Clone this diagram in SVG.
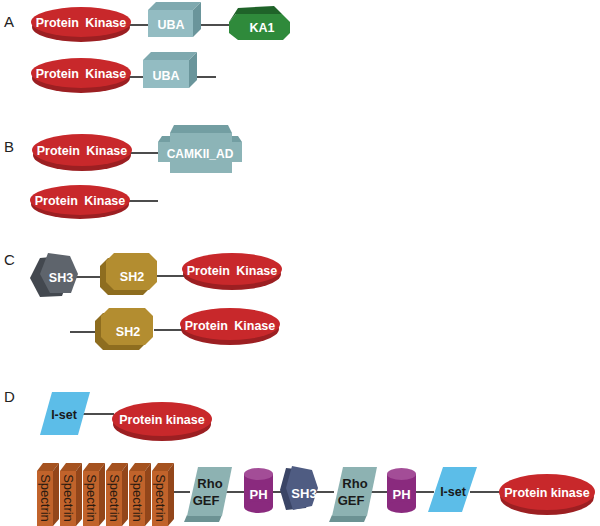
<svg xmlns="http://www.w3.org/2000/svg" width="600" height="526" viewBox="0 0 600 526">
<style>
.lbl{font-family:"Liberation Sans",Arial,sans-serif;font-size:15px;fill:#222}
.w{font-family:"Liberation Sans",Arial,sans-serif;font-weight:bold;font-size:12.5px;fill:#fff;text-anchor:middle}
.pk{word-spacing:3px}
.d{font-family:"Liberation Sans",Arial,sans-serif;font-weight:bold;font-size:13px;fill:#1a1a1a;text-anchor:middle}
.sp{font-family:"Liberation Sans",Arial,sans-serif;font-size:13px;fill:#2a1a10;text-anchor:middle}
.ln{stroke:#111;stroke-width:1.5;fill:none}
.ekt{fill:#c8282b}.eks{fill:#9c1f22}
.ubaf{fill:#93bcc2}.ubat{fill:#7fa9af}.ubar{fill:#6a959b}
.kaf{fill:#2f8a3b}.kat{fill:#1f6329}
.cam{fill:#8cb4b7}.camt{fill:#739ea2}
.sh3f{fill:#5e646c}.sh3b{fill:#43484f}
.sh2f{fill:#b38d30}.sh2b{fill:#8e6d1f}
.spf{fill:#c1632b}.spt{fill:#a5521f}.spr{fill:#93461a}
.rgf{fill:#8db2b2}.rgb{fill:#6c9293}
.phb{fill:#8a2a7e}.pht{fill:#a34d97}
.sh3df{fill:#4f5c82}.sh3db{fill:#3a4566}
.iset{fill:#5cbde8}
</style>
<defs>
<g id="spec">
<polygon class="spt" points="0,8 6,0 22,0 16,8"/>
<polygon class="spr" points="16,8 22,0 22,56 16,63"/>
<rect class="spf" x="0" y="8" width="16" height="55"/>
</g>
</defs>
<text class="lbl" x="4" y="27">A</text>
<text class="lbl" x="4" y="152">B</text>
<text class="lbl" x="4" y="265">C</text>
<text class="lbl" x="4" y="402">D</text>
<g id="connectors">
<line class="ln" x1="128" y1="25" x2="148" y2="25"/>
<line class="ln" x1="200" y1="25" x2="230" y2="25"/>
<line class="ln" x1="128" y1="77" x2="146" y2="77"/>
<line class="ln" x1="196" y1="77" x2="216" y2="77"/>
<line class="ln" x1="130" y1="153" x2="160" y2="153"/>
<line class="ln" x1="127" y1="201" x2="158" y2="201"/>
<line class="ln" x1="76" y1="277" x2="102" y2="277"/>
<line class="ln" x1="156" y1="276" x2="184" y2="276"/>
<line class="ln" x1="70" y1="332" x2="98" y2="332"/>
<line class="ln" x1="154" y1="330" x2="182" y2="330"/>
<line class="ln" x1="82" y1="414" x2="114" y2="414"/>
<line class="ln" x1="173" y1="492" x2="190" y2="492"/>
<line class="ln" x1="225" y1="492" x2="246" y2="492"/>
<line class="ln" x1="272" y1="492" x2="284" y2="492"/>
<line class="ln" x1="316" y1="492" x2="334" y2="492"/>
<line class="ln" x1="370" y1="492" x2="388" y2="492"/>
<line class="ln" x1="416" y1="492" x2="434" y2="492"/>
<line class="ln" x1="470" y1="492" x2="500" y2="492"/>
</g>
<g id="a1-kinase">
<ellipse class="eks" cx="81" cy="27" rx="49" ry="15"/>
<ellipse class="ekt" cx="81" cy="22" rx="50" ry="15"/>
<text class="w pk" x="81" y="27">Protein Kinase</text>
</g>
<g id="a1-uba">
<polygon class="ubat" points="148,10 156,2 201,2 193,10"/>
<polygon class="ubar" points="193,10 201,2 201,29 193,37"/>
<rect class="ubaf" x="148" y="10" width="45" height="27"/>
<text class="w" x="171" y="29">UBA</text>
</g>
<g id="a1-ka1">
<polygon class="kaf" points="236,14 282,14 290,22 290,33 283,40 238,40 229,33 229,22"/>
<polygon class="kat" points="229,22 238,8 274,6 282,14 236,14"/>
<text class="w" x="262" y="32">KA1</text>
</g>
<g id="a2-kinase">
<ellipse class="eks" cx="81" cy="78" rx="49" ry="15"/>
<ellipse class="ekt" cx="81" cy="73" rx="50" ry="15"/>
<text class="w pk" x="81" y="78">Protein Kinase</text>
</g>
<g id="a2-uba">
<polygon class="ubat" points="143,60 151,52 197,52 189,60"/>
<polygon class="ubar" points="189,60 197,52 197,80 189,88"/>
<rect class="ubaf" x="143" y="60" width="46" height="28"/>
<text class="w" x="166" y="80">UBA</text>
</g>
<g id="b1-kinase">
<ellipse class="eks" cx="82" cy="155" rx="49" ry="16"/>
<ellipse class="ekt" cx="82" cy="150" rx="50" ry="16"/>
<text class="w pk" x="82" y="155">Protein Kinase</text>
</g>
<g id="b1-camkii">
<rect class="cam" x="170" y="133" width="62" height="40"/>
<rect class="cam" x="158" y="142" width="84" height="20"/>
<polygon class="camt" points="170,133 174,125 228,125 232,133"/>
<polygon class="camt" points="158,142 162,136 170,136 170,142"/>
<polygon class="camt" points="232,142 232,136 238,136 242,142"/>
<text class="w" x="200" y="158" style="font-size:12px">CAMKII_AD</text>
</g>
<g id="b2-kinase">
<ellipse class="eks" cx="80" cy="204" rx="49" ry="15"/>
<ellipse class="ekt" cx="80" cy="200" rx="50" ry="15"/>
<text class="w pk" x="80" y="205">Protein Kinase</text>
</g>
<g id="c1-sh3">
<polygon class="sh3b" points="40,258 62,256 70,275 62,296 40,297 30,278"/>
<polygon class="sh3f" points="48,253 70,256 78,274 71,293 50,293 40,274"/>
<text class="w" x="61" y="282">SH3</text>
</g>
<g id="c1-sh2">
<polygon class="sh2b" points="108,258 143,258 151,266 151,287 143,295 108,295 100,287 100,266"/>
<polygon class="sh2f" points="114,253 149,253 157,261 157,282 149,290 114,290 106,282 106,261"/>
<text class="w" x="132" y="281">SH2</text>
</g>
<g id="c1-kinase">
<ellipse class="eks" cx="232" cy="274" rx="49" ry="16"/>
<ellipse class="ekt" cx="232" cy="269" rx="50" ry="16"/>
<text class="w pk" x="232" y="275">Protein Kinase</text>
</g>
<g id="c2-sh2">
<polygon class="sh2b" points="103,313 139,313 147,321 147,342 139,350 103,350 95,342 95,321"/>
<polygon class="sh2f" points="109,308 145,308 153,316 153,337 145,345 109,345 101,337 101,316"/>
<text class="w" x="128" y="336">SH2</text>
</g>
<g id="c2-kinase">
<ellipse class="eks" cx="230" cy="329" rx="49" ry="16"/>
<ellipse class="ekt" cx="230" cy="324" rx="50" ry="16"/>
<text class="w pk" x="230" y="330">Protein Kinase</text>
</g>
<g id="d1-iset">
<polygon class="iset" points="52,392 90,392 78,435 40,435"/>
<text class="d" x="64" y="419" style="font-size:12.5px">I-set</text>
</g>
<g id="d1-kinase">
<ellipse class="eks" cx="162" cy="424" rx="49" ry="17"/>
<ellipse class="ekt" cx="162" cy="419" rx="50" ry="17"/>
<text class="w" x="162" y="424">Protein kinase</text>
</g>
<g id="d2-spectrin1"><use href="#spec" x="37" y="463"/><text class="sp" transform="translate(45,498) rotate(90)" y="4.5">Spectrin</text></g>
<g id="d2-spectrin2"><use href="#spec" x="60" y="463"/><text class="sp" transform="translate(68,498) rotate(90)" y="4.5">Spectrin</text></g>
<g id="d2-spectrin3"><use href="#spec" x="83" y="463"/><text class="sp" transform="translate(91,498) rotate(90)" y="4.5">Spectrin</text></g>
<g id="d2-spectrin4"><use href="#spec" x="106" y="463"/><text class="sp" transform="translate(114,498) rotate(90)" y="4.5">Spectrin</text></g>
<g id="d2-spectrin5"><use href="#spec" x="129" y="463"/><text class="sp" transform="translate(137,498) rotate(90)" y="4.5">Spectrin</text></g>
<g id="d2-spectrin6"><use href="#spec" x="152" y="463"/><text class="sp" transform="translate(160,498) rotate(90)" y="4.5">Spectrin</text></g>
<g id="d2-rhogef1">
<polygon class="rgb" points="187,515 222,515 219,522 184,522"/>
<polygon class="rgf" points="198,467 232,467 222,516 187,516"/>
<text class="d" x="210" y="488">Rho</text>
<text class="d" x="206" y="505">GEF</text>
</g>
<g id="d2-ph1">
<rect class="phb" x="244" y="474" width="29" height="33"/>
<ellipse class="phb" cx="258.5" cy="507" rx="14.5" ry="6"/>
<ellipse class="pht" cx="258.5" cy="474" rx="14.5" ry="6"/>
<text class="w" x="258.5" y="499" style="font-size:13px">PH</text>
</g>
<g id="d2-sh3">
<polygon class="sh3db" points="286,468 306,470 312,488 306,508 286,510 280,490"/>
<polygon class="sh3df" points="292,466 312,470 318,488 312,506 293,510 286,488"/>
<text class="w" x="304" y="498" style="font-size:13px">SH3</text>
</g>
<g id="d2-rhogef2">
<polygon class="rgb" points="332,515 367,515 364,522 329,522"/>
<polygon class="rgf" points="343,467 377,467 367,516 332,516"/>
<text class="d" x="355" y="488">Rho</text>
<text class="d" x="351" y="505">GEF</text>
</g>
<g id="d2-ph2">
<rect class="phb" x="387" y="474" width="29" height="33"/>
<ellipse class="phb" cx="401.5" cy="507" rx="14.5" ry="6"/>
<ellipse class="pht" cx="401.5" cy="474" rx="14.5" ry="6"/>
<text class="w" x="401.5" y="499" style="font-size:13px">PH</text>
</g>
<g id="d2-iset">
<polygon class="iset" points="443,467 477,467 462,512 428,512"/>
<text class="d" x="453" y="496" style="font-size:12.5px">I-set</text>
</g>
<g id="d2-kinase">
<ellipse class="eks" cx="547" cy="497" rx="47" ry="18"/>
<ellipse class="ekt" cx="547" cy="492" rx="48" ry="18"/>
<text class="w" x="547" y="497">Protein kinase</text>
</g>
</svg>
